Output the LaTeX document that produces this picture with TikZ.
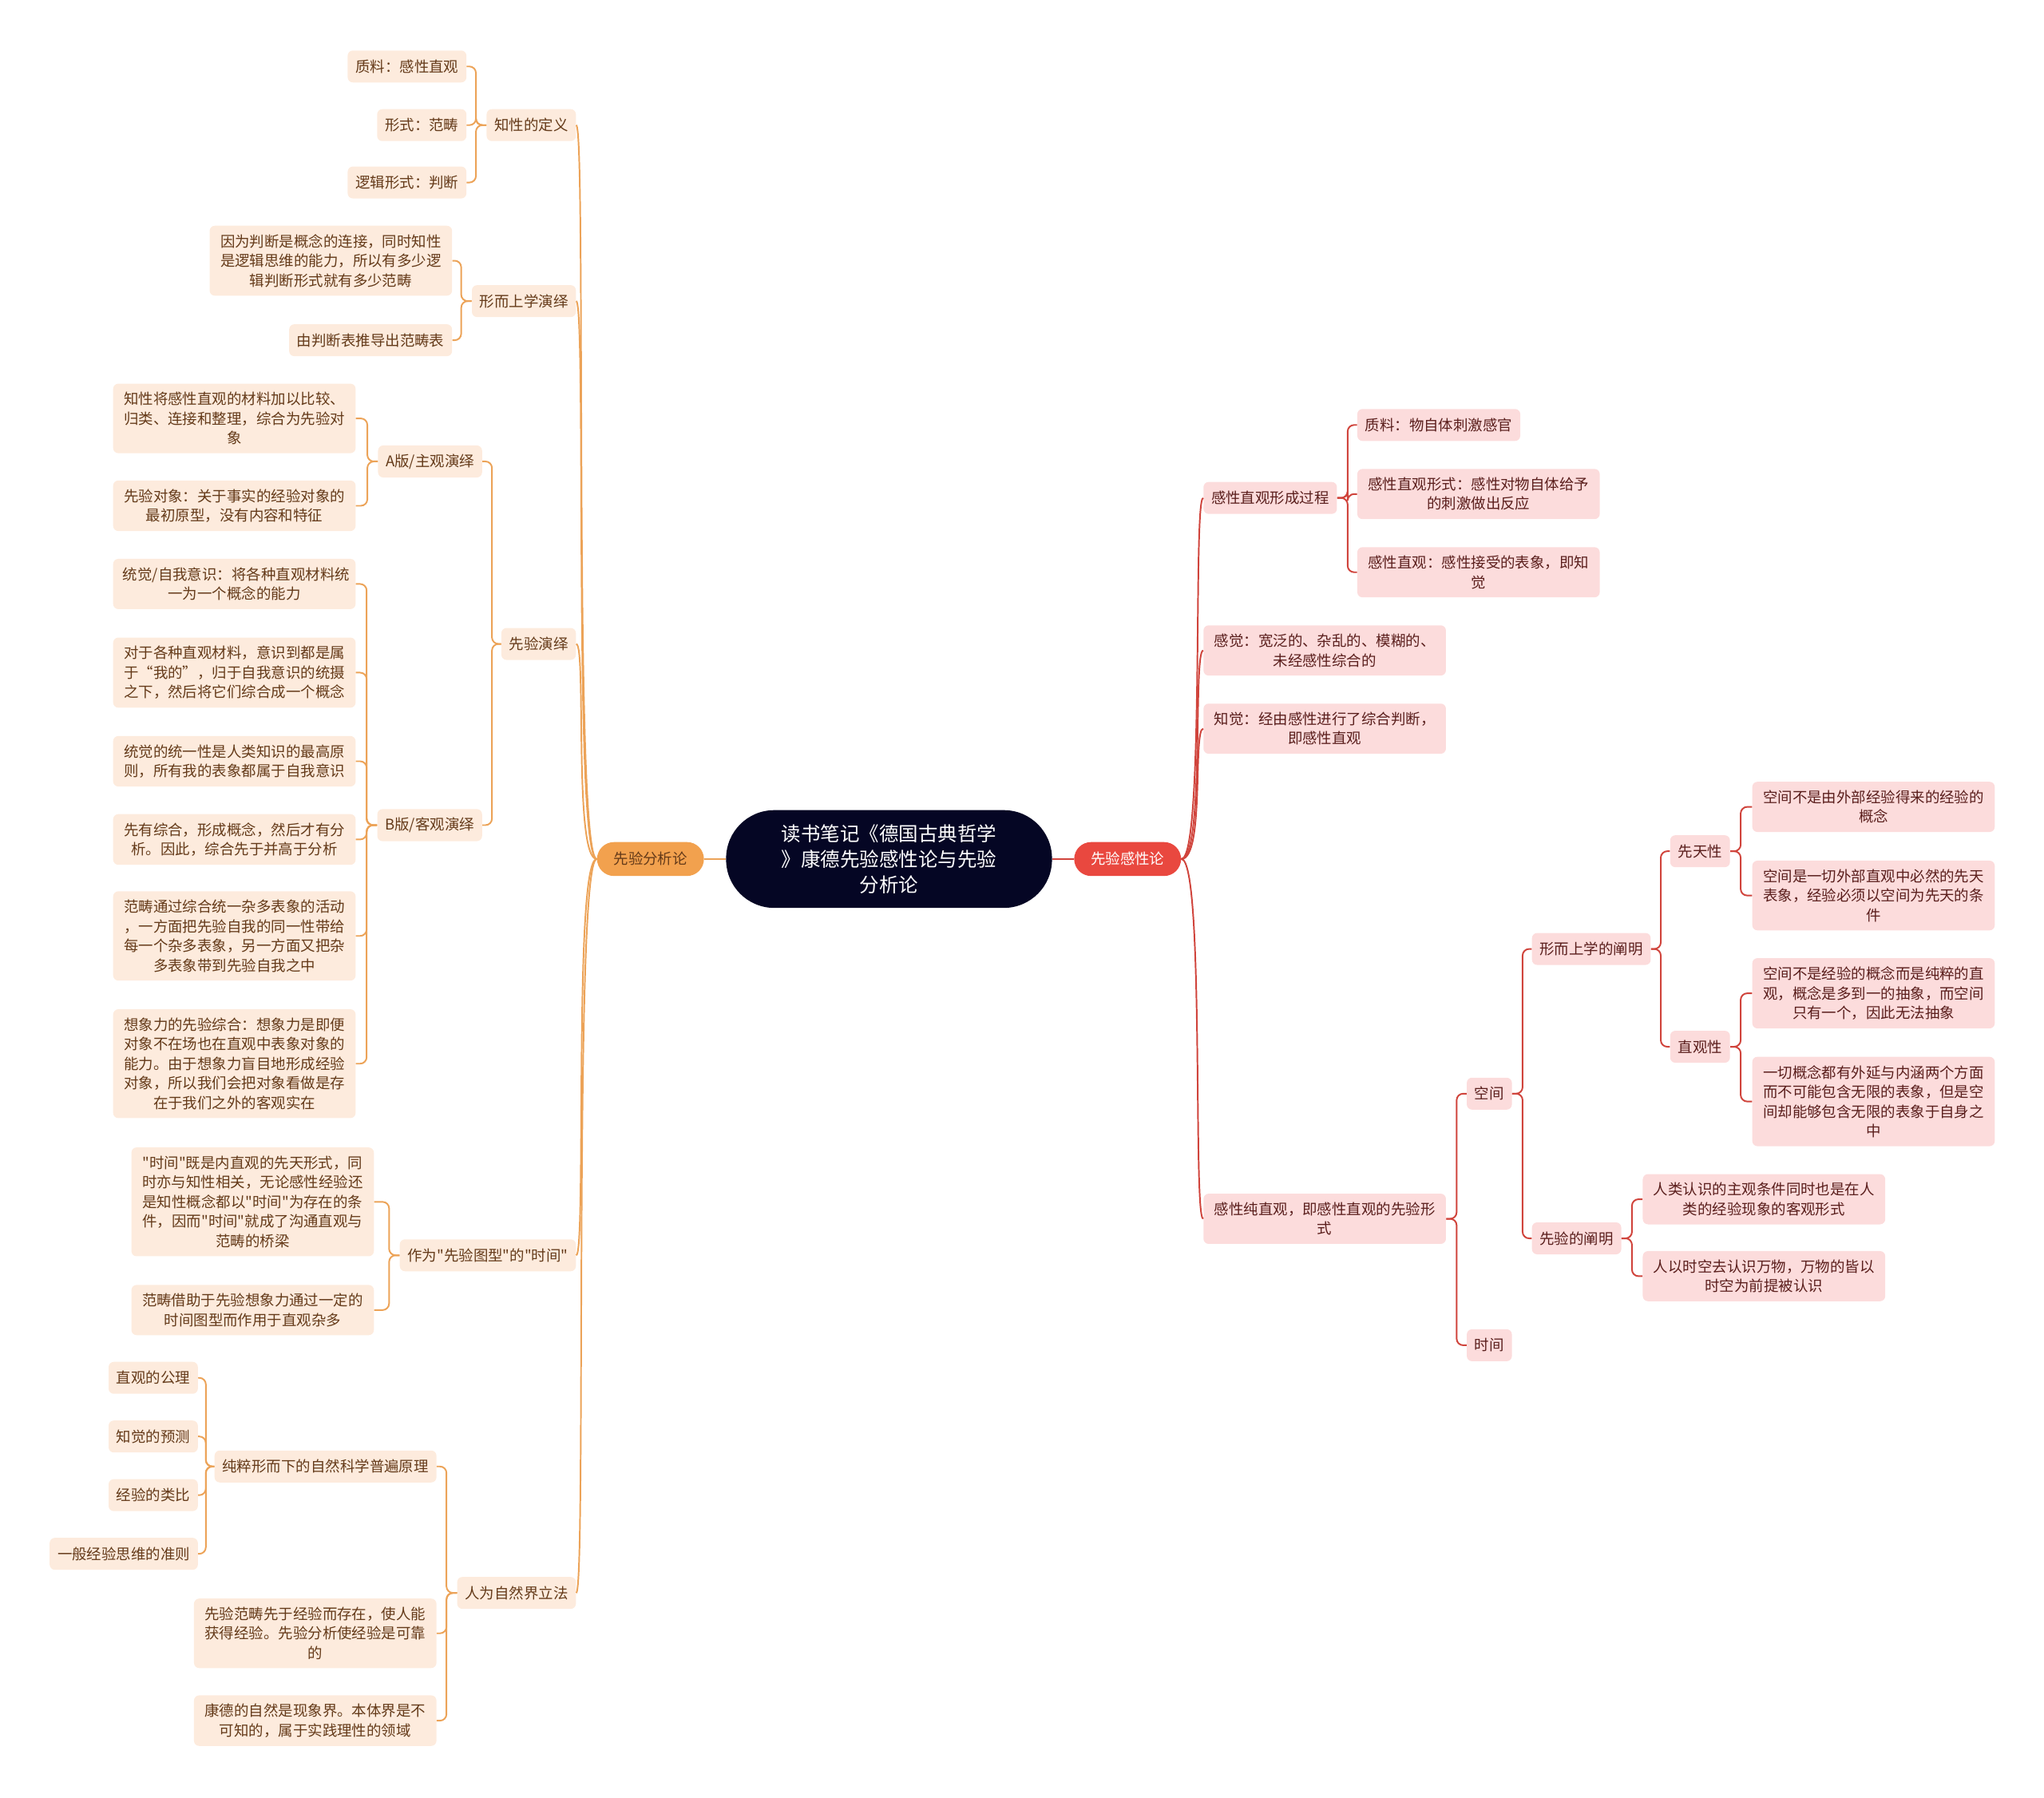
\documentclass[tikz,border=0pt]{standalone}
\usepackage{fontspec}
\setmainfont{Noto Sans CJK SC}[Ligatures=TeXOff]
\usetikzlibrary{positioning,calc}
\definecolor{rootblue}{RGB}{5, 6, 36}
\definecolor{mainorange}{RGB}{242, 161, 78}
\definecolor{mainred}{RGB}{233, 72, 63}
\definecolor{lpeach}{RGB}{253, 235, 221}
\definecolor{lpink}{RGB}{252, 220, 220}
\definecolor{textA}{RGB}{100, 58, 25}
\definecolor{textB}{RGB}{90, 30, 28}
\definecolor{lineA}{RGB}{236, 163, 88}
\definecolor{lineB}{RGB}{208, 68, 60}
\tikzstyle{root} = [rectangle, fill=rootblue, text=white, rounded corners=37pt,
  minimum width=250pt, minimum height=75pt, text width=170pt, align=center,
  font=\fontsize{15}{19.5}\selectfont]
\tikzstyle{mainA} = [rectangle, fill=mainorange, text=textA, rounded corners=13pt,
  minimum width=82pt, minimum height=26pt, font=\fontsize{11.3}{15}\selectfont]
\tikzstyle{mainB} = [mainA, fill=mainred, text=white]
\tikzstyle{leafA} = [rectangle, fill=lpeach, text=textA, rounded corners=4pt,
  inner xsep=6pt, inner ysep=6.5pt, minimum height=24.5pt, align=center,
  font=\fontsize{11.3}{15}\selectfont]
\tikzstyle{wideA} = [leafA, text width=171pt, inner xsep=7.5pt]
\tikzstyle{leafB} = [leafA, fill=lpink, text=textB]
\tikzstyle{wideB} = [leafB, text width=171pt, inner xsep=7.5pt]
\tikzstyle{linkA} = [draw, line width=1.2pt, color=lineA, rounded corners=5pt]
\tikzstyle{linkB} = [draw, line width=1.2pt, color=lineB, rounded corners=5pt]

\begin{document}
\begin{tikzpicture}[x=1pt, y=-1pt]

  \useasboundingbox (0,0) rectangle (1568,1379);

  \node [root] (root) at (682,659) {读书笔记《德国古典哲学\\》康德先验感性论与先验\\分析论};
  \node [mainA] (analytic) at (499,659) {先验分析论};
  \node [mainB] (aesthetic) at (865,659) {先验感性论};
  \draw[linkA] (root.west) -- (analytic.east);
  \draw[linkB] (root.east) -- (aesthetic.west);

  %%%%%%%%%%%%%%%%%%%%%%%%%%%%%%%%%%%%%%%%%%%%%%%%%%%%%%%%%%%%%%
  %                    TRANSCENDENTAL ANALYTIC                 %
  %%%%%%%%%%%%%%%%%%%%%%%%%%%%%%%%%%%%%%%%%%%%%%%%%%%%%%%%%%%%%%

  \node [leafA, anchor=east] (understanding-def) at (442,96) {知性的定义};
  \node [leafA, anchor=east] (metaphysical-deduction) at (442,231) {形而上学演绎};
  \node [leafA, anchor=east] (transcendental-deduction) at (442,494) {先验演绎};
  \node [leafA, anchor=east] (schema-time) at (442,963) {作为"先验图型"的"时间"};
  \node [leafA, anchor=east] (lawgiver) at (442,1222) {人为自然界立法};

  \foreach \child in {understanding-def, metaphysical-deduction, transcendental-deduction, schema-time, lawgiver}
    \draw[linkA] (analytic.west) .. controls +(-18,0) and +(8,0) .. (\child.east);

  % definition of understanding
  \node [leafA, anchor=east] (matter-a) at (358,51) {质料：感性直观};
  \node [leafA, anchor=east] (form-a) at (358,96) {形式：范畴};
  \node [leafA, anchor=east] (logic-form) at (358,140) {逻辑形式：判断};
  \foreach \child in {matter-a, form-a, logic-form}
    \draw[linkA] (understanding-def.west) -- ++(-8,0) |- (\child.east);

  % metaphysical deduction
  \node [wideA, anchor=east] (judgement-why) at (347,200) {因为判断是概念的连接，同时知性\\是逻辑思维的能力，所以有多少逻\\辑判断形式就有多少范畴};
  \node [leafA, anchor=east] (judgement-table) at (347,261) {由判断表推导出范畴表};
  \foreach \child in {judgement-why, judgement-table}
    \draw[linkA] (metaphysical-deduction.west) -- ++(-8,0) |- (\child.east);

  % transcendental deduction
  \node [leafA, anchor=east] (version-a) at (370,354) {A版/主观演绎};
  \node [leafA, anchor=east] (version-b) at (370,633) {B版/客观演绎};
  \foreach \child in {version-a, version-b}
    \draw[linkA] (transcendental-deduction.west) -- ++(-7,0) |- (\child.east);

  \node [wideA, anchor=east] (a-one) at (273,321) {知性将感性直观的材料加以比较、\\归类、连接和整理，综合为先验对\\象};
  \node [wideA, anchor=east] (a-two) at (273,388) {先验对象：关于事实的经验对象的\\最初原型，没有内容和特征};
  \foreach \child in {a-one, a-two}
    \draw[linkA] (version-a.west) -- ++(-8,0) |- (\child.east);

  \node [wideA, anchor=east] (b-one) at (273,448) {统觉/自我意识：将各种直观材料统\\一为一个概念的能力};
  \node [wideA, anchor=east] (b-two) at (273,516) {对于各种直观材料，意识到都是属\\于“我的”，归于自我意识的统摄\\之下，然后将它们综合成一个概念};
  \node [wideA, anchor=east] (b-three) at (273,584) {统觉的统一性是人类知识的最高原\\则，所有我的表象都属于自我意识};
  \node [wideA, anchor=east] (b-four) at (273,644) {先有综合，形成概念，然后才有分\\析。因此，综合先于并高于分析};
  \node [wideA, anchor=east] (b-five) at (273,718) {范畴通过综合统一杂多表象的活动\\，一方面把先验自我的同一性带给\\每一个杂多表象，另一方面又把杂\\多表象带到先验自我之中};
  \node [wideA, anchor=east] (b-six) at (273,816) {想象力的先验综合：想象力是即便\\对象不在场也在直观中表象对象的\\能力。由于想象力盲目地形成经验\\对象，所以我们会把对象看做是存\\在于我们之外的客观实在};
  \foreach \child in {b-one, b-two, b-three, b-four, b-five, b-six}
    \draw[linkA] (version-b.west) -- ++(-8,0) |- (\child.east);

  % schema of time
  \node [wideA, anchor=east] (time-bridge) at (287,922) {"时间"既是内直观的先天形式，同\\时亦与知性相关，无论感性经验还\\是知性概念都以"时间"为存在的条\\件，因而"时间"就成了沟通直观与\\范畴的桥梁};
  \node [wideA, anchor=east] (time-schema) at (287,1005) {范畴借助于先验想象力通过一定的\\时间图型而作用于直观杂多};
  \foreach \child in {time-bridge, time-schema}
    \draw[linkA] (schema-time.west) -- ++(-8,0) |- (\child.east);

  % legislation of nature
  \node [leafA, anchor=east] (pure-principles) at (335,1125) {纯粹形而下的自然科学普遍原理};
  \node [wideA, anchor=east] (categories-first) at (335,1253) {先验范畴先于经验而存在，使人能\\获得经验。先验分析使经验是可靠\\的};
  \node [wideA, anchor=east] (kant-nature) at (335,1320) {康德的自然是现象界。本体界是不\\可知的，属于实践理性的领域};
  \foreach \child in {pure-principles, categories-first, kant-nature}
    \draw[linkA] (lawgiver.west) -- ++(-8,0) |- (\child.east);

  \node [leafA, anchor=east] (axioms) at (152,1057) {直观的公理};
  \node [leafA, anchor=east] (anticipations) at (152,1102) {知觉的预测};
  \node [leafA, anchor=east] (analogies) at (152,1147) {经验的类比};
  \node [leafA, anchor=east] (postulates) at (152,1192) {一般经验思维的准则};
  \foreach \child in {axioms, anticipations, analogies, postulates}
    \draw[linkA] (pure-principles.west) -- ++(-6.5,0) |- (\child.east);

  %%%%%%%%%%%%%%%%%%%%%%%%%%%%%%%%%%%%%%%%%%%%%%%%%%%%%%%%%%%%%%
  %                    TRANSCENDENTAL AESTHETIC                %
  %%%%%%%%%%%%%%%%%%%%%%%%%%%%%%%%%%%%%%%%%%%%%%%%%%%%%%%%%%%%%%

  \node [leafB, anchor=west] (intuition-process) at (923,382) {感性直观形成过程};
  \node [wideB, anchor=west] (sensation) at (923,499) {感觉：宽泛的、杂乱的、模糊的、\\未经感性综合的};
  \node [wideB, anchor=west] (perception) at (923,559) {知觉：经由感性进行了综合判断，\\即感性直观};
  \node [wideB, anchor=west] (pure-intuition) at (923,935) {感性纯直观，即感性直观的先验形\\式};

  \foreach \child in {intuition-process, sensation, perception, pure-intuition}
    \draw[linkB] (aesthetic.east) .. controls +(18,0) and +(-8,0) .. (\child.west);

  % forming of intuition
  \node [leafB, anchor=west] (matter-b) at (1041,326) {质料：物自体刺激感官};
  \node [wideB, anchor=west] (form-b) at (1041,379) {感性直观形式：感性对物自体给予\\的刺激做出反应};
  \node [wideB, anchor=west] (intuition-b) at (1041,439) {感性直观：感性接受的表象，即知\\觉};
  \foreach \child in {matter-b, form-b, intuition-b}
    \draw[linkB] (intuition-process.east) -- ++(8,0) |- (\child.west);

  % space and time
  \node [leafB, anchor=west] (space) at (1125,839) {空间};
  \node [leafB, anchor=west] (time) at (1125,1032) {时间};
  \foreach \child in {space, time}
    \draw[linkB] (pure-intuition.east) -- ++(8,0) |- (\child.west);

  \node [leafB, anchor=west] (metaphysical-exposition) at (1175,728) {形而上学的阐明};
  \node [leafB, anchor=west] (transcendental-exposition) at (1175,950) {先验的阐明};
  \foreach \child in {metaphysical-exposition, transcendental-exposition}
    \draw[linkB] (space.east) -- ++(8,0) |- (\child.west);

  \node [leafB, anchor=west] (a-priori) at (1281,653) {先天性};
  \node [leafB, anchor=west] (intuitive) at (1281,803) {直观性};
  \foreach \child in {a-priori, intuitive}
    \draw[linkB] (metaphysical-exposition.east) -- ++(7.5,0) |- (\child.west);

  \node [wideB, anchor=west] (space-one) at (1344,619) {空间不是由外部经验得来的经验的\\概念};
  \node [wideB, anchor=west] (space-two) at (1344,687) {空间是一切外部直观中必然的先天\\表象，经验必须以空间为先天的条\\件};
  \foreach \child in {space-one, space-two}
    \draw[linkB] (a-priori.east) -- ++(8,0) |- (\child.west);

  \node [wideB, anchor=west] (space-three) at (1344,762) {空间不是经验的概念而是纯粹的直\\观，概念是多到一的抽象，而空间\\只有一个，因此无法抽象};
  \node [wideB, anchor=west] (space-four) at (1344,845) {一切概念都有外延与内涵两个方面\\而不可能包含无限的表象，但是空\\间却能够包含无限的表象于自身之\\中};
  \foreach \child in {space-three, space-four}
    \draw[linkB] (intuitive.east) -- ++(8,0) |- (\child.west);

  \node [wideB, anchor=west] (subjective-condition) at (1260,920) {人类认识的主观条件同时也是在人\\类的经验现象的客观形式};
  \node [wideB, anchor=west] (things-known) at (1260,979) {人以时空去认识万物，万物的皆以\\时空为前提被认识};
  \foreach \child in {subjective-condition, things-known}
    \draw[linkB] (transcendental-exposition.east) -- ++(8,0) |- (\child.west);

\end{tikzpicture}
\end{document}
